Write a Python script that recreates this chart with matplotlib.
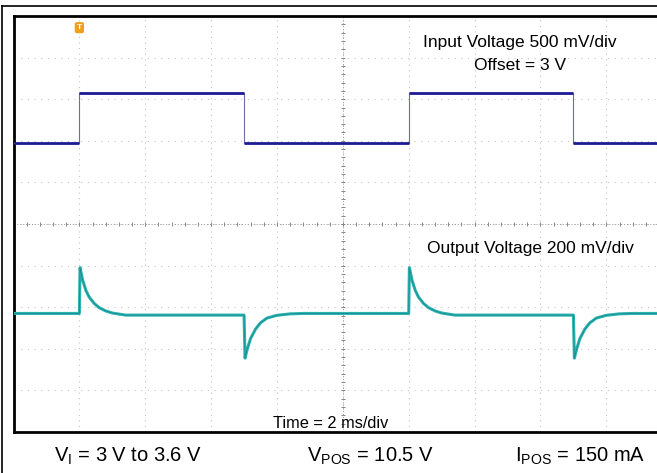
import numpy as np
import matplotlib
matplotlib.use("Agg")
import matplotlib.pyplot as plt
from matplotlib.lines import Line2D

plt.rcParams['font.family'] = ['Liberation Sans', 'DejaVu Sans']
plt.rcParams['mathtext.default'] = 'regular'

# Input square wave (ms, V)
in_time = [0, 2, 2, 7, 7, 12, 12, 17, 17, 20]
in_volt = [3.0, 3.0, 3.6, 3.6, 3.0, 3.0, 3.6, 3.6, 3.0, 3.0]

# Output transient (ms after the step, mV deviation)
rise_dt = [0.0, 0.02, 0.1, 0.2, 0.3, 0.45, 0.6, 0.8, 1.0, 1.4]
rise_mv = [0, 220, 160, 110, 78, 48, 28, 12, 2, -8]
fall_dt = [0.0, 0.03, 0.1, 0.2, 0.35, 0.5, 0.7, 1.0, 1.4, 1.8]
fall_mv = [-8, -215, -170, -120, -75, -45, -22, -9, -2, 0]
step_up = [2, 12]
step_down = [7, 17]

ms_per_div = 2.0
in_mv_per_div = 500
out_mv_per_div = 200
in_pos = 1.95    # screen position of 3 V offset (div)
out_pos = -2.15  # screen position of output level (div)

# build output trace from the read points
out_t = [0.0]
out_mv = [0]
for up, down in zip(step_up, step_down):
    out_t += [up + d for d in rise_dt]
    out_mv += rise_mv
    out_t += [down + d for d in fall_dt]
    out_mv += fall_mv
out_t.append(20.0)
out_mv.append(0)

fig = plt.figure(figsize=(6.57, 4.73), dpi=100)
W, H = 657, 473

# outer frame (left + top)
fig.add_artist(Line2D([2 / W, 2 / W], [0, 1 - 6 / H], color='black', lw=1.2))
fig.add_artist(Line2D([2 / W, 1], [1 - 6 / H, 1 - 6 / H], color='black', lw=1.2))

ax = fig.add_axes([13.5 / W, 41 / H, 658.7 / W, 416 / H])
ax.set_xlim(0, 10)
ax.set_ylim(-5, 5)
for s in ['left', 'top', 'bottom']:
    ax.spines[s].set_linewidth(2)
ax.spines['right'].set_visible(False)
ax.set_xticks([])
ax.set_yticks([])

# graticule
for gx in range(1, 10):
    ax.axvline(gx, color='#c4c4c4', lw=0.8, ls=(0, (1, 4)), zorder=1)
for gy in range(-4, 5):
    ax.axhline(gy, color='#c4c4c4', lw=0.8, ls=(0, (1, 5)), zorder=1)
ax.axvline(5, color='#999999', lw=0.7, ls=(0, (1, 2)), zorder=1)
ax.axhline(0, color='#999999', lw=0.7, ls=(0, (1, 2)), zorder=1)
mx = np.arange(0, 10.01, 0.2)
my = np.arange(-5, 5.01, 0.2)
ax.plot(mx, np.zeros_like(mx), ls='none', marker='|', ms=3, color='#888888', mew=0.7, zorder=1)
ax.plot(np.full_like(my, 5), my, ls='none', marker='_', ms=3, color='#888888', mew=0.7, zorder=1)

# input trace
tx = np.array(in_time) / ms_per_div
ty = (np.array(in_volt) - 3.0) * 1000 / in_mv_per_div + in_pos
ax.plot(tx, ty, color='#6d6da8', lw=0.8, zorder=3)
for i in range(len(tx) - 1):
    if ty[i] == ty[i + 1]:
        ax.plot(tx[i:i + 2], ty[i:i + 2], color='#1c1c94', lw=2.0,
                solid_capstyle='butt', zorder=4)

# output trace
ox = np.array(out_t) / ms_per_div
oy = np.array(out_mv) / out_mv_per_div + out_pos
ax.plot(ox, oy, color='#2db3b3', lw=2.2, zorder=4)
ax.plot(ox, oy, color='#178c8c', lw=0.6, zorder=5)

# trigger marker
ax.text(1, 4.72, 'T', fontsize=6, color='white', fontweight='bold',
        ha='center', va='center', zorder=6,
        bbox=dict(boxstyle='round,pad=0.25', fc='#f0a020', ec='none'))

fs = 12.5
fig.text(520 / W, 1 - 43 / H, 'Input Voltage 500 mV/div', fontsize=fs,
         ha='center', va='center')
fig.text(520 / W, 1 - 65 / H, 'Offset = 3 V', fontsize=fs,
         ha='center', va='center')
fig.text(530 / W, 1 - 249 / H, 'Output Voltage 200 mV/div', fontsize=fs,
         ha='center', va='center')
fig.text(331 / W, 1 - 423 / H, 'Time = 2 ms/div', fontsize=11.8,
         ha='center', va='center')

fb = 14.5
fig.text(128 / W, 1 - 456 / H, r'V$_{I}$ = 3 V to 3.6 V', fontsize=fb,
         ha='center', va='center')
fig.text(370 / W, 1 - 456 / H, r'V$_{POS}$ = 10.5 V', fontsize=fb,
         ha='center', va='center')
fig.text(580 / W, 1 - 456 / H, r'I$_{POS}$ = 150 mA', fontsize=fb,
         ha='center', va='center')

fig.savefig('out.png', dpi=100)
